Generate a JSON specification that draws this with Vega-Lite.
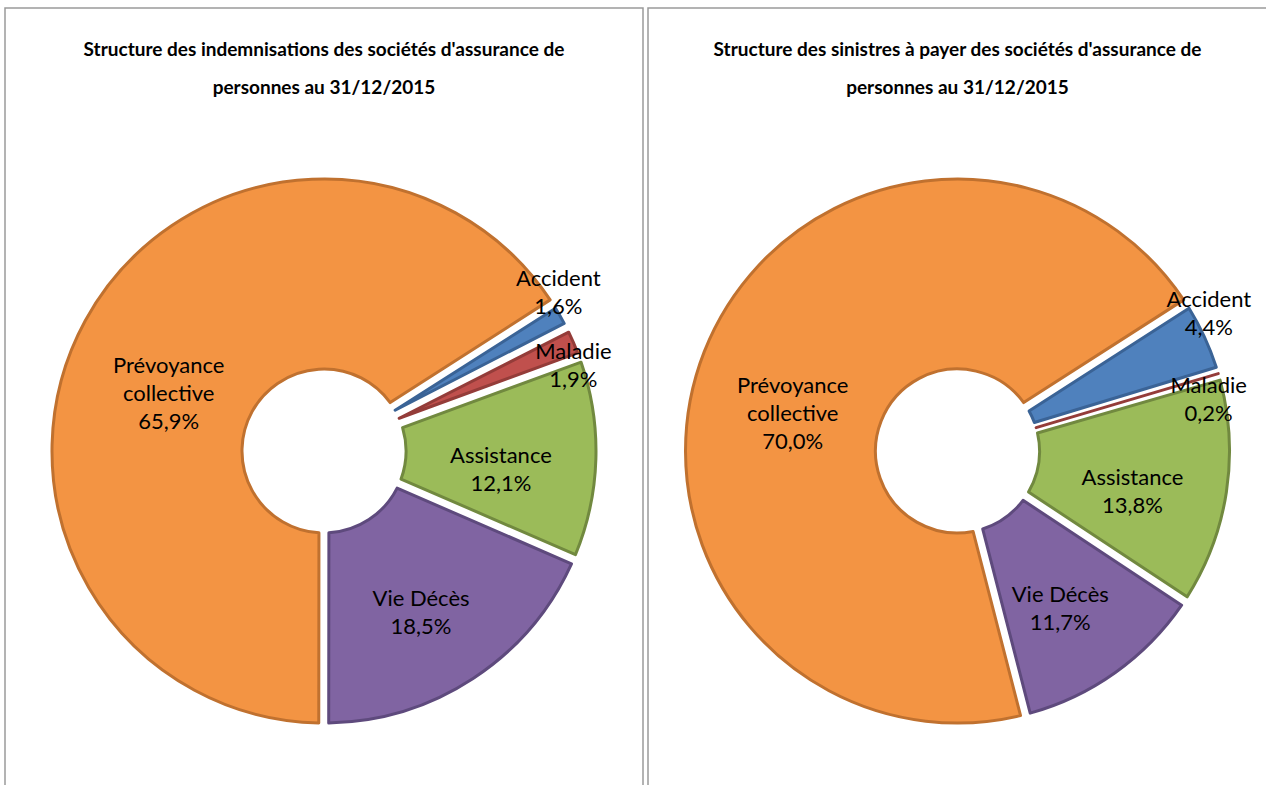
{
  "$schema": "https://vega.github.io/schema/vega-lite/v6.json",
  "padding": {"left": 4, "top": 7, "right": 0, "bottom": 0},
  "spacing": 3,
  "background": "white",
  "config": {
    "view": {"stroke": "#9a9a9a", "strokeWidth": 1.5},
    "font": "Lato, Roboto, sans-serif",
    "title": {"font": "Lato, Roboto, sans-serif", "fontSize": 19, "fontWeight": "bold", "color": "#000000", "lineHeight": 38, "anchor": "middle", "offset": -90}
  },
  "datasets": {
    "left": [
      {"category": "Accident", "value": 1.6, "ord": 1, "label": "Accident\n1,6%"},
      {"category": "Maladie", "value": 1.9, "ord": 2, "label": "Maladie\n1,9%"},
      {"category": "Assistance", "value": 12.1, "ord": 3, "label": "Assistance\n12,1%"},
      {"category": "Vie Décès", "value": 18.5, "ord": 4, "label": "Vie Décès\n18,5%"},
      {"category": "Prévoyance collective", "value": 65.9, "ord": 5, "label": "Prévoyance\ncollective\n65,9%"}
    ],
    "right": [
      {"category": "Accident", "value": 4.4, "ord": 1, "label": "Accident\n4,4%"},
      {"category": "Maladie", "value": 0.2, "ord": 2, "label": "Maladie\n0,2%"},
      {"category": "Assistance", "value": 13.8, "ord": 3, "label": "Assistance\n13,8%"},
      {"category": "Vie Décès", "value": 11.7, "ord": 4, "label": "Vie Décès\n11,7%"},
      {"category": "Prévoyance collective", "value": 70.0, "ord": 5, "label": "Prévoyance\ncollective\n70,0%"}
    ]
  },
  "hconcat": [
    {
      "width": 638,
      "height": 886,
      "view": {"stroke": "#9a9a9a", "strokeWidth": 1.5},
      "title": {"text": ["Structure des indemnisations des sociétés d'assurance de", "personnes au 31/12/2015"]},
      "data": {"name": "left"},
      "encoding": {
        "theta": {"field": "value", "type": "quantitative", "stack": true, "scale": {"range": [1.0, 7.2832]}},
        "order": {"field": "ord", "type": "quantitative"}
      },
      "layer": [
        {
          "mark": {"type": "arc", "innerRadius": 82, "outerRadius": 272, "padAngle": 0.035, "strokeWidth": 3, "strokeJoin": "round"},
          "encoding": {
            "color": {"field": "category", "type": "nominal", "legend": null, "scale": {"domain": ["Accident", "Maladie", "Assistance", "Vie Décès", "Prévoyance collective"], "range": ["#4F81BD", "#C0504D", "#9BBB59", "#8064A2", "#F39443"]}},
            "stroke": {"field": "category", "type": "nominal", "legend": null, "scale": {"domain": ["Accident", "Maladie", "Assistance", "Vie Décès", "Prévoyance collective"], "range": ["#3A6396", "#943C39", "#71893F", "#5E4A7D", "#C0712F"]}}
          }
        },
        {
          "mark": {"type": "text", "fontSize": 22, "color": "#000000", "lineBreak": "\n", "lineHeight": 28, "align": "center",
            "radius": {"expr": "datum.ord == 1 ? 322 : (datum.ord == 2 ? 272 : 177)"},
            "dx": {"expr": "datum.ord == 1 ? -45 : 0"},
            "baseline": {"expr": "datum.ord > 2 ? 'middle' : (datum.ord == 1 ? 'bottom' : 'top')"}},
          "encoding": {"text": {"field": "label", "type": "nominal"}}
        }
      ]
    },
    {
      "width": 619,
      "height": 886,
      "view": {"stroke": "#9a9a9a", "strokeWidth": 1.5},
      "title": {"text": ["Structure des sinistres à payer des sociétés d'assurance de", "personnes au 31/12/2015"]},
      "data": {"name": "right"},
      "encoding": {
        "theta": {"field": "value", "type": "quantitative", "stack": true, "scale": {"range": [1.0, 7.2832]}},
        "order": {"field": "ord", "type": "quantitative"}
      },
      "layer": [
        {
          "mark": {"type": "arc", "innerRadius": 82, "outerRadius": 272, "padAngle": 0.035, "strokeWidth": 3, "strokeJoin": "round"},
          "encoding": {
            "color": {"field": "category", "type": "nominal", "legend": null, "scale": {"domain": ["Accident", "Maladie", "Assistance", "Vie Décès", "Prévoyance collective"], "range": ["#4F81BD", "#C0504D", "#9BBB59", "#8064A2", "#F39443"]}},
            "stroke": {"field": "category", "type": "nominal", "legend": null, "scale": {"domain": ["Accident", "Maladie", "Assistance", "Vie Décès", "Prévoyance collective"], "range": ["#3A6396", "#943C39", "#71893F", "#5E4A7D", "#C0712F"]}}
          }
        },
        {
          "mark": {"type": "text", "fontSize": 22, "color": "#000000", "lineBreak": "\n", "lineHeight": 28, "align": "center",
            "radius": {"expr": "datum.ord == 1 ? 332 : (datum.ord == 2 ? 262 : 177)"},
            "dx": {"expr": "datum.ord == 1 ? -50 : 0"},
            "baseline": {"expr": "datum.ord > 2 ? 'middle' : (datum.ord == 1 ? 'bottom' : 'top')"}},
          "encoding": {"text": {"field": "label", "type": "nominal"}}
        }
      ]
    }
  ]
}
